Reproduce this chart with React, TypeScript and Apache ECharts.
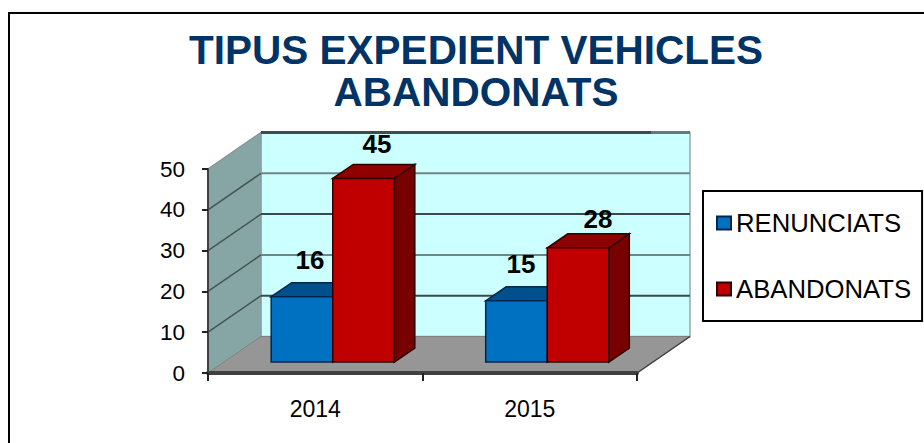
import React, { useEffect, useRef } from "react";
import * as echarts from "echarts";

const categories = ["2014", "2015"];
const renunciats = [16, 15];
const abandonats = [45, 28];
const seriesNames = ["RENUNCIATS", "ABANDONATS"];
const yMax = 50;
const yStep = 10;
const yTicks = [10, 20, 30, 40, 50];
const titleText = "TIPUS EXPEDIENT VEHICLES\nABANDONATS";

const FONT = "Liberation Sans";
const WALL_DX = 53;
const WALL_DY = -36.5;
const BAR_DX = 17.5;
const BAR_DY = -11;
const BAR_BAND = 0.287;
const BAR_DEPTH_X = 20.5;
const BAR_DEPTH_Y = -14;
const labelNudges = [
  [[8, -36.5], [4.5, -36.5]],
  [[13.5, -34.5], [20, -28.5]],
];
const palette = [
  { front: "#0070C0", top: "#00508C", side: "#00406F", edge: "#00264D" },
  { front: "#C00000", top: "#8F0000", side: "#780000", edge: "#300000" },
];

function renderWalls(params: any, api: any) {
  const cs = params.coordSys;
  const left = cs.x;
  const right = cs.x + cs.width;
  const y0 = api.coord([0, 0])[1];
  const yTop = api.coord([0, yMax])[1];
  const dx = WALL_DX;
  const dy = WALL_DY;
  const children: any[] = [
    {
      type: "rect",
      shape: { x: left + dx, y: yTop + dy, width: cs.width, height: y0 - yTop },
      style: { fill: "#CCFFFF", stroke: "#9AA8A8", lineWidth: 1.5 },
    },
    {
      type: "polygon",
      shape: { points: [[left, y0], [left, yTop], [left + dx, yTop + dy], [left + dx, y0 + dy]] },
      style: { fill: "#86A6A6", stroke: "#8A9A9A", lineWidth: 1 },
    },
    {
      type: "polygon",
      shape: { points: [[left, y0], [right, y0], [right + dx, y0 + dy], [left + dx, y0 + dy]] },
      style: { fill: "#969696", stroke: "#808080", lineWidth: 1 },
    },
    {
      type: "line",
      shape: { x1: right, y1: y0, x2: right + dx, y2: y0 + dy },
      style: { stroke: "#404040", lineWidth: 1.5 },
    },
  ];
  yTicks.forEach((t, i) => {
    const y = api.coord([0, t])[1];
    const isTop = t === yMax;
    const color = i % 2 === 0 ? "#3A4A4A" : "#6F8686";
    children.push({
      type: "line",
      shape: { x1: left, y1: y, x2: left + dx, y2: y + dy },
      style: { stroke: isTop ? "#8A9696" : "#46564F", lineWidth: 1.5 },
    });
    children.push({
      type: "line",
      shape: { x1: left + dx, y1: y + dy, x2: right + dx, y2: y + dy },
      style: { stroke: isTop ? "#3F4C4C" : color, lineWidth: isTop ? 3 : 2 },
    });
  });
  children.push({
    type: "line",
    shape: { x1: right + dx - 39, y1: yTop + dy, x2: right + dx, y2: yTop + dy },
    style: { stroke: "#667777", lineWidth: 3 },
  });
  return { type: "group", children };
}

function makeBarRenderer(seriesIdx: number, values: number[]) {
  return (_params: any, api: any) => {
    const catIdx = api.value(0);
    const val = api.value(1);
    const band = api.size([1, 0])[0];
    const w = band * BAR_BAND;
    const p = api.coord([catIdx, val]);
    const base = api.coord([catIdx, 0]);
    const x0 = p[0] + BAR_DX + (seriesIdx - 1) * w;
    const x1 = x0 + w;
    const yT = p[1] + BAR_DY;
    const yB = base[1] + BAR_DY;
    const dx = BAR_DEPTH_X;
    const dy = BAR_DEPTH_Y;
    const c = palette[seriesIdx];
    const stroke = { stroke: c.edge, lineWidth: 1.5 };
    const nudge = labelNudges[seriesIdx][catIdx];
    return {
      type: "group",
      children: [
        {
          type: "polygon",
          shape: { points: [[x1, yT], [x1 + dx, yT + dy], [x1 + dx, yB + dy], [x1, yB]] },
          style: { fill: c.side, ...stroke },
        },
        {
          type: "polygon",
          shape: { points: [[x0, yT], [x0 + dx, yT + dy], [x1 + dx, yT + dy], [x1, yT]] },
          style: { fill: c.top, ...stroke },
        },
        {
          type: "rect",
          shape: { x: x0, y: yT, width: w, height: yB - yT },
          style: { fill: c.front, ...stroke },
        },
        {
          type: "text",
          z2: 100,
          style: {
            text: String(values[catIdx]),
            x: (x0 + x1) / 2 + nudge[0],
            y: yT + nudge[1],
            fill: "#000000",
            fontFamily: FONT,
            fontWeight: "bold",
            fontSize: 26,
            textAlign: "center",
            textVerticalAlign: "middle",
          },
        },
      ],
    };
  };
}

export default function App() {
  const ref = useRef<HTMLDivElement>(null);
  useEffect(() => {
    document.body.style.margin = "0";
    const chart = echarts.init(ref.current!, undefined, { renderer: "svg" });
    chart.setOption({
      animation: false,
      backgroundColor: "#FFFFFF",
      textStyle: { fontFamily: FONT },
      title: {
        text: titleText,
        left: 471,
        top: 24,
        textAlign: "center",
        textStyle: {
          color: "#003366",
          fontFamily: FONT,
          fontWeight: "bold",
          fontSize: 40.5,
          lineHeight: 42,
        },
      },
      grid: { left: 208, top: 169, width: 429, height: 204 },
      xAxis: {
        type: "category",
        data: categories,
        z: 5,
        axisLine: { show: true, lineStyle: { color: "#404040", width: 4 } },
        axisTick: { show: true, length: 8, alignWithLabel: false, lineStyle: { color: "#222222", width: 2 } },
        axisLabel: { color: "#000000", fontSize: 23, margin: 24, fontFamily: FONT },
        splitLine: { show: false },
      },
      yAxis: {
        type: "value",
        min: 0,
        max: yMax,
        interval: yStep,
        z: 5,
        axisLine: { show: true, lineStyle: { color: "#404040", width: 2 } },
        axisTick: { show: true, length: 6, lineStyle: { color: "#222222", width: 2 } },
        axisLabel: { color: "#000000", fontSize: 22.5, margin: 23, fontFamily: FONT },
        splitLine: { show: false },
      },
      legend: {
        data: seriesNames,
        orient: "vertical",
        left: 703,
        top: 191,
        padding: [19, 11, 19, 13],
        itemGap: 40,
        itemWidth: 14,
        itemHeight: 13,
        borderColor: "#000000",
        borderWidth: 2,
        icon: "rect",
        textStyle: { color: "#000000", fontSize: 25.7, fontFamily: FONT },
      },
      graphic: [
        {
          type: "rect",
          silent: true,
          shape: { x: 9, y: 13, width: 1000, height: 1000 },
          style: { fill: "none", stroke: "#000000", lineWidth: 2 },
        },
      ],
      series: [
        {
          type: "custom",
          name: "walls",
          data: [[0, 0]],
          clip: false,
          silent: true,
          z: 1,
          renderItem: renderWalls,
        },
        {
          type: "custom",
          name: seriesNames[0],
          data: renunciats.map((v, i) => [i, v]),
          encode: { x: 0, y: 1 },
          clip: false,
          z: 2,
          itemStyle: { color: palette[0].front, borderColor: palette[0].edge, borderWidth: 1.5 },
          renderItem: makeBarRenderer(0, renunciats),
        },
        {
          type: "custom",
          name: seriesNames[1],
          data: abandonats.map((v, i) => [i, v]),
          encode: { x: 0, y: 1 },
          clip: false,
          z: 3,
          itemStyle: { color: palette[1].front, borderColor: palette[1].edge, borderWidth: 1.5 },
          renderItem: makeBarRenderer(1, abandonats),
        },
      ],
    });
    return () => chart.dispose();
  }, []);
  return <div ref={ref} style={{ width: 924, height: 443 }} />;
}
